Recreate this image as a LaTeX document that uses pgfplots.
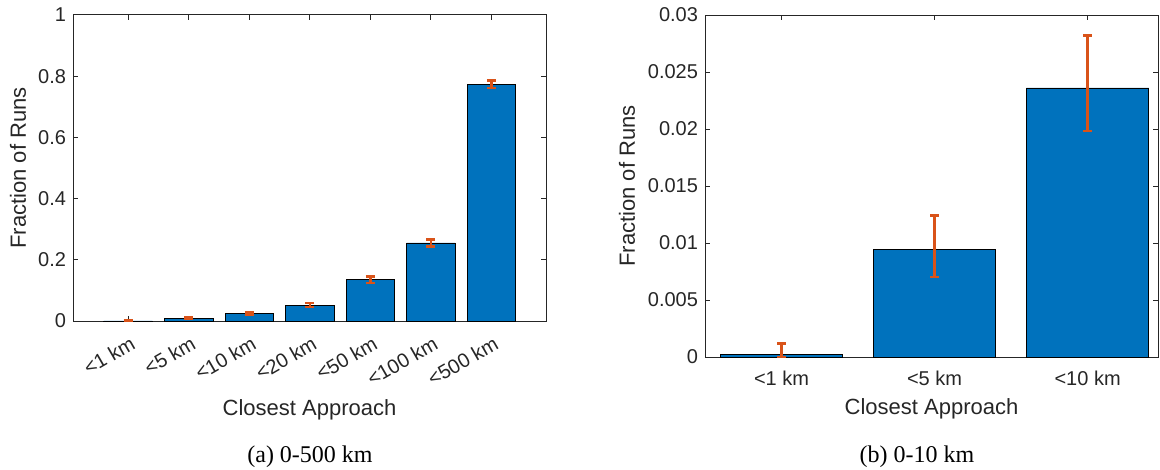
\documentclass[border=0pt]{standalone}
\usepackage{fontspec}
\setmainfont{Liberation Sans}
\newfontfamily\capfont{Liberation Serif}
\usepackage{pgfplots}
\pgfplotsset{compat=1.18}
\definecolor{mblue}{RGB}{0,114,189}
\definecolor{morange}{RGB}{217,83,25}
\definecolor{mgray}{RGB}{38,38,38}
\pgfplotsset{mstyle/.style={
  scale only axis,
  axis line style={mgray, line width=0.5pt},
  tick style={mgray, line width=0.5pt},
  major tick length=2.5pt,
  tick align=inside,
  ticklabel style={font=\fontsize{10}{12}\selectfont, text=mgray},
  label style={font=\fontsize{11}{13}\selectfont, text=mgray},
  /pgf/number format/assume math mode=true,
  scaled y ticks=false,
  ylabel={Fraction of Runs},
  xlabel={Closest Approach},
}}
\pgfplotsset{mbar/.style={ybar, bar width=0.8, bar shift=0pt, fill=mblue, draw=black, line width=0.4pt,
  error bars/.cd, y dir=both, y explicit,
  error bar style={morange, line width=1.2pt},
  error mark options={rotate=90, morange, line width=1.2pt, mark size=2.25pt}}}
\begin{document}
\begin{tikzpicture}
\useasboundingbox (0,0) rectangle (580pt,-235pt);
\begin{axis}[mstyle,
  at={(36.5pt,-160.5pt)}, anchor=south west,
  width=236.5pt, height=153pt,
  xmin=0.09, xmax=7.9, ymin=0, ymax=1,
  xtick={1,2,3,4,5,6,7},
  xticklabels={<1 km,<5 km,<10 km,<20 km,<50 km,<100 km,<500 km},
  xticklabel style={yshift=-5.5pt, xshift=1pt, rotate=30, anchor=north east, inner sep=1pt},
  ytick={0,0.2,0.4,0.6,0.8,1},
  yticklabel style={/pgf/number format/.cd, fixed, precision=1},
  xlabel style={at={(axis description cs:0.5,-0.291)}, anchor=center},
  ylabel style={at={(axis description cs:-0.116,0.5)}, anchor=center},
]
\addplot[mbar] coordinates {
 (1,0.0002) += (0,0.0009) -= (0,0.0002)
 (2,0.0094) += (0,0.0030) -= (0,0.0024)
 (3,0.0236) += (0,0.0046) -= (0,0.0038)
 (4,0.0520) += (0,0.0070) -= (0,0.0070)
 (5,0.1350) += (0,0.0110) -= (0,0.0110)
 (6,0.2550) += (0,0.0110) -= (0,0.0110)
 (7,0.7740) += (0,0.0125) -= (0,0.0125)
};
\end{axis}
\begin{axis}[mstyle,
  at={(352.5pt,-178.5pt)}, anchor=south west,
  width=226.5pt, height=171pt,
  xmin=0.5, xmax=3.46, ymin=0, ymax=0.03,
  xtick={1,2,3},
  xticklabels={<1 km,<5 km,<10 km},
  xticklabel style={yshift=-3.5pt},
  ytick={0,0.005,0.01,0.015,0.02,0.025,0.03},
  yticklabel style={/pgf/number format/.cd, fixed, precision=3},
  xlabel style={at={(axis description cs:0.5,-0.152)}, anchor=center},
  ylabel style={at={(axis description cs:-0.172,0.5)}, anchor=center},
]
\addplot[mbar] coordinates {
 (1,0.0002) += (0,0.0010) -= (0,0.0002)
 (2,0.0094) += (0,0.0030) -= (0,0.0024)
 (3,0.0236) += (0,0.0046) -= (0,0.0038)
};
\end{axis}
\node[font=\capfont\fontsize{12}{14}\selectfont] at (155pt,-228.5pt) {(a) 0-500 km};
\node[font=\capfont\fontsize{12}{14}\selectfont] at (458.5pt,-228.5pt) {(b) 0-10 km};
\end{tikzpicture}
\end{document}
